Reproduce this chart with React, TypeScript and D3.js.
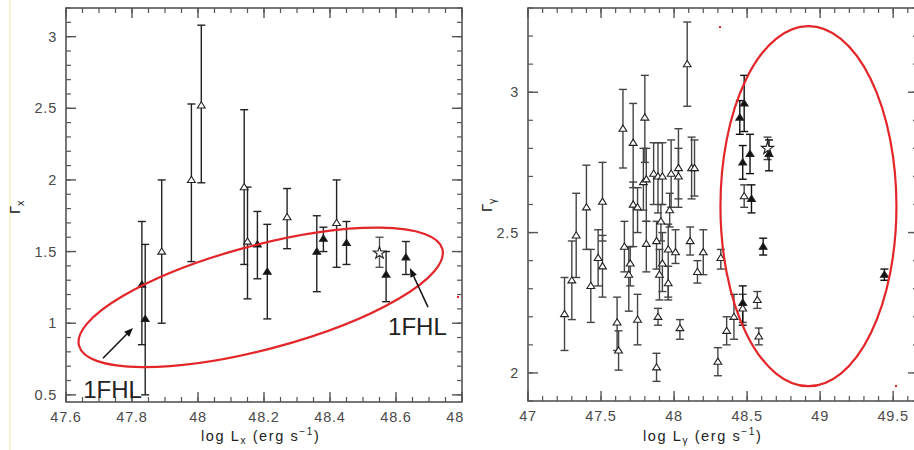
import React from 'react';
import * as d3 from 'd3';

// ---- left panel: Gamma_x vs log L_x ----
const leftX = [47.83, 47.84, 47.89, 47.98, 48.01, 48.14, 48.15, 48.18, 48.21, 48.27, 48.36, 48.38, 48.42, 48.45, 48.55, 48.57, 48.63];
const leftY = [1.27, 1.03, 1.5, 2.0, 2.52, 1.95, 1.57, 1.55, 1.36, 1.74, 1.5, 1.59, 1.7, 1.56, 1.49, 1.34, 1.46];
const leftLo = [0.85, 0.5, 1.0, 1.43, 1.98, 1.41, 1.17, 1.31, 1.03, 1.52, 1.22, 1.5, 1.39, 1.41, 1.39, 1.15, 1.34];
const leftHi = [1.71, 1.55, 2.0, 2.53, 3.08, 2.49, 1.95, 1.78, 1.69, 1.94, 1.75, 1.67, 2.0, 1.71, 1.6, 1.5, 1.57];
const leftKind = ['f', 'f', 'o', 'o', 'o', 'o', 'o', 'f', 'f', 'o', 'f', 'f', 'o', 'f', 's', 'f', 'f'];

const leftXTicks = [47.6, 47.8, 48, 48.2, 48.4, 48.6, 48.8];
const leftYTicks = [0.5, 1, 1.5, 2, 2.5, 3];

// ---- right panel: Gamma_gamma vs log L_gamma ----
const rightX = [47.25, 47.3, 47.33, 47.4, 47.43, 47.48, 47.51, 47.51, 47.61, 47.62, 47.66, 47.65, 47.69, 47.7, 47.72, 47.72, 47.75, 47.75, 47.79, 47.8, 47.81, 47.81, 47.86, 47.88, 47.89, 47.88, 47.89, 47.9, 47.91, 47.92, 47.92, 47.96, 47.96, 47.97, 47.98, 48.01, 48.03, 48.03, 48.04, 48.09, 48.11, 48.12, 48.14, 48.16, 48.2, 48.3, 48.32, 48.36, 48.41, 48.47, 48.48, 48.57, 48.58, 48.64, 48.45, 48.48, 48.47, 48.52, 48.53, 48.47, 48.61, 48.65, 49.44];
const rightY = [2.21, 2.33, 2.49, 2.59, 2.31, 2.41, 2.38, 2.61, 2.18, 2.08, 2.45, 2.87, 2.35, 2.39, 2.82, 2.6, 2.19, 2.59, 2.68, 2.91, 2.69, 2.46, 2.71, 2.02, 2.2, 2.47, 2.7, 2.35, 2.54, 2.7, 2.39, 2.44, 2.32, 2.58, 2.71, 2.43, 2.73, 2.7, 2.16, 3.1, 2.47, 2.73, 2.73, 2.36, 2.43, 2.04, 2.41, 2.15, 2.2, 2.23, 2.63, 2.26, 2.13, 2.8, 2.91, 2.96, 2.75, 2.78, 2.62, 2.25, 2.45, 2.78, 2.35];
const rightLo = [2.08, 2.19, 2.34, 2.44, 2.18, 2.31, 2.27, 2.47, 2.08, 2.01, 2.36, 2.73, 2.22, 2.31, 2.66, 2.45, 2.1, 2.5, 2.58, 2.75, 2.54, 2.36, 2.6, 1.97, 2.17, 2.37, 2.57, 2.26, 2.47, 2.6, 2.29, 2.27, 2.26, 2.52, 2.59, 2.39, 2.62, 2.59, 2.12, 2.95, 2.42, 2.62, 2.63, 2.32, 2.35, 1.99, 2.37, 2.1, 2.12, 2.18, 2.59, 2.23, 2.1, 2.76, 2.85, 2.86, 2.69, 2.71, 2.57, 2.17, 2.42, 2.72, 2.33];
const rightHi = [2.34, 2.47, 2.64, 2.74, 2.44, 2.51, 2.49, 2.75, 2.27, 2.15, 2.54, 3.01, 2.45, 2.45, 2.96, 2.68, 2.28, 2.66, 2.8, 3.06, 2.8, 2.54, 2.82, 2.07, 2.23, 2.54, 2.82, 2.44, 2.6, 2.82, 2.5, 2.53, 2.38, 2.64, 2.83, 2.51, 2.87, 2.8, 2.19, 3.25, 2.52, 2.84, 2.83, 2.4, 2.51, 2.09, 2.44, 2.2, 2.28, 2.28, 2.67, 2.29, 2.16, 2.84, 2.97, 3.06, 2.81, 2.85, 2.67, 2.31, 2.48, 2.83, 2.37];
const rightKind = [
  'o', 'o', 'o', 'o', 'o', 'o', 'o', 'o', 'o', 'o', 'o', 'o', 'o', 'o', 'o', 'o', 'o', 'o', 'o', 'o',
  'o', 'o', 'o', 'o', 'o', 'o', 'o', 'o', 'o', 'o', 'o', 'o', 'o', 'o', 'o', 'o', 'o', 'o', 'o', 'o',
  'o', 'o', 'o', 'o', 'o', 'o', 'o', 'o', 'o', 'o', 'o', 'o', 'o', 's', 'f', 'f', 'f', 'f', 'f', 'f',
  'f', 'f', 'f',
];

const rightXTicks = [47, 47.5, 48, 48.5, 49, 49.5];
const rightYTicks = [2, 2.5, 3];

const W = 914;
const H = 450;
const tickFont = "'Liberation Sans', Arial, sans-serif";
const axisColor = '#555';
const red = '#e3262a';

const fmt = (d: number) => String(+d.toFixed(2));

const tri = 'M0,-3.6 L3.9,2.6 L-3.9,2.6 Z';
const star = d3.symbol(d3.symbolStar, 46)()!;

type PanelProps = {
  x: d3.ScaleLinear<number, number>;
  y: d3.ScaleLinear<number, number>;
  xTicks: number[];
  yTicks: number[];
  xMinor: number[];
  yMinor: number[];
  px: number[];
  py: number[];
  lo: number[];
  hi: number[];
  kind: string[];
  barColor: (k: string) => string;
};

function Panel({ x, y, xTicks, yTicks, xMinor, yMinor, px, py, lo, hi, kind, barColor }: PanelProps) {
  const [x0, x1] = x.range();
  const [y0, y1] = y.range(); // y0 bottom, y1 top
  return (
    <g>
      {/* frame */}
      <rect x={x0} y={y1} width={x1 - x0} height={y0 - y1} fill="none" stroke={axisColor} strokeWidth={1.6} />
      {/* minor ticks */}
      {xMinor.map((t, i) => (
        <g key={'xm' + i} stroke={axisColor} strokeWidth={1.2}>
          <line x1={x(t)} x2={x(t)} y1={y0} y2={y0 - 5} />
          <line x1={x(t)} x2={x(t)} y1={y1} y2={y1 + 5} />
        </g>
      ))}
      {yMinor.map((t, i) => (
        <g key={'ym' + i} stroke={axisColor} strokeWidth={1.2}>
          <line x1={x0} x2={x0 + 5} y1={y(t)} y2={y(t)} />
          <line x1={x1} x2={x1 - 5} y1={y(t)} y2={y(t)} />
        </g>
      ))}
      {/* major ticks + labels */}
      {xTicks.map((t, i) => (
        <g key={'xt' + i}>
          <line x1={x(t)} x2={x(t)} y1={y0} y2={y0 - 10} stroke={axisColor} strokeWidth={1.4} />
          <line x1={x(t)} x2={x(t)} y1={y1} y2={y1 + 10} stroke={axisColor} strokeWidth={1.4} />
          <text x={x(t)} y={y0 + 20} textAnchor="middle" fontFamily={tickFont} fontSize={14.5}
            letterSpacing={0.8} fill="#4a4a4a">{fmt(t)}</text>
        </g>
      ))}
      {yTicks.map((t, i) => (
        <g key={'yt' + i}>
          <line x1={x0} x2={x0 + 10} y1={y(t)} y2={y(t)} stroke={axisColor} strokeWidth={1.4} />
          <line x1={x1} x2={x1 - 10} y1={y(t)} y2={y(t)} stroke={axisColor} strokeWidth={1.4} />
          <text x={x0 - 9} y={y(t) + 5} textAnchor="end" fontFamily={tickFont} fontSize={14.5}
            letterSpacing={0.8} fill="#4a4a4a">{fmt(t)}</text>
        </g>
      ))}
      {/* error bars */}
      {px.map((v, i) => {
        const cx = x(v);
        const c = barColor(kind[i]);
        return (
          <g key={'e' + i} stroke={c} strokeWidth={1.4}>
            <line x1={cx} x2={cx} y1={y(lo[i])} y2={y(hi[i])} />
            <line x1={cx - 4} x2={cx + 4} y1={y(lo[i])} y2={y(lo[i])} />
            <line x1={cx - 4} x2={cx + 4} y1={y(hi[i])} y2={y(hi[i])} />
          </g>
        );
      })}
      {/* markers */}
      {px.map((v, i) => (
        <path key={'m' + i} d={kind[i] === 's' ? star : tri}
          transform={`translate(${x(v)},${y(py[i])})`}
          fill={kind[i] === 'f' ? '#111' : '#fff'} stroke="#222" strokeWidth={1.1} />
      ))}
    </g>
  );
}

function Arrow({ x1, y1, x2, y2 }: { x1: number; y1: number; x2: number; y2: number }) {
  const a = Math.atan2(y2 - y1, x2 - x1);
  const L = 9, w = 3.5;
  const bx = x2 - L * Math.cos(a), by = y2 - L * Math.sin(a);
  const p = `M${x2},${y2} L${bx - w * Math.sin(a)},${by + w * Math.cos(a)} L${bx + w * Math.sin(a)},${by - w * Math.cos(a)} Z`;
  return (
    <g>
      <line x1={x1} y1={y1} x2={bx} y2={by} stroke="#111" strokeWidth={1.5} />
      <path d={p} fill="#111" />
    </g>
  );
}

export default function App() {
  const lx = d3.scaleLinear().domain([47.6, 48.8]).range([66, 462]);
  const ly = d3.scaleLinear().domain([0.45, 3.2]).range([402, 8]);
  const rx = d3.scaleLinear().domain([47, 49.67]).range([528, 918]);
  const ry = d3.scaleLinear().domain([1.9, 3.3]).range([401, 8]);

  const lxMinor = lx.ticks(24);
  const lyMinor = ly.ticks(27);
  const rxMinor = rx.ticks(26);
  const ryMinor = ry.ticks(14);

  const labelFont = "'Liberation Sans', Arial, sans-serif";

  return (
    <div style={{ position: 'absolute', left: 0, top: 0, width: W, height: H, background: '#fff' }}>
      <svg width={W} height={H} viewBox={`0 0 ${W} ${H}`}>
        <defs>
          <clipPath id="leftClip"><rect x={0} y={0} width={464} height={H} /></clipPath>
          <clipPath id="rightClip"><rect x={466} y={0} width={W - 466} height={H} /></clipPath>
        </defs>
        <rect x={0} y={0} width={W} height={H} fill="#fff" />
        <line x1={10} x2={10} y1={0} y2={H} stroke="#f6f1c8" strokeWidth={1.5} />

        <g clipPath="url(#leftClip)">
          <Panel x={lx} y={ly} xTicks={leftXTicks} yTicks={leftYTicks} xMinor={lxMinor} yMinor={lyMinor}
            px={leftX} py={leftY} lo={leftLo} hi={leftHi} kind={leftKind}
            barColor={(k) => (k === 's' ? '#555' : '#222')} />
          <ellipse cx={0} cy={0} rx={188} ry={52} fill="none" stroke={red} strokeWidth={2.2}
            transform={`translate(${lx(48.19)},${ly(1.18)}) rotate(-14.9)`} />
          <Arrow x1={lx(47.712)} y1={ly(0.755)} x2={lx(47.803)} y2={ly(0.967)} />
          <Arrow x1={lx(48.697)} y1={ly(1.112)} x2={lx(48.642)} y2={ly(1.385)} />
          <text x={lx(47.652)} y={ly(0.48)} fontFamily={labelFont} fontSize={24} fill="#222">1FHL</text>
          <text x={lx(48.576)} y={ly(0.916)} fontFamily={labelFont} fontSize={24} fill="#222">1FHL</text>
          <rect x={457} y={296} width={2} height={2} fill={red} />
          <text x={201} y={441} fontFamily={labelFont} fontSize={14.5} letterSpacing={1.6} fill="#222">
            log L<tspan fontSize={10} dy={3}>x</tspan><tspan dy={-3}> (erg s</tspan>
            <tspan fontSize={10} dy={-6}>−1</tspan><tspan dy={6}>)</tspan>
          </text>
          <text transform="translate(20,214) rotate(-90)" fontFamily="'DejaVu Sans', sans-serif" fontSize={14} fill="#222">
            Γ<tspan fontSize={10} dy={4}>x</tspan>
          </text>
        </g>

        <g clipPath="url(#rightClip)">
          <Panel x={rx} y={ry} xTicks={rightXTicks} yTicks={rightYTicks} xMinor={rxMinor} yMinor={ryMinor}
            px={rightX} py={rightY} lo={rightLo} hi={rightHi} kind={rightKind}
            barColor={(k) => (k === 'f' ? '#111' : '#444')} />
          <ellipse cx={rx(48.92)} cy={ry(2.594)} rx={88} ry={180} fill="none" stroke={red} strokeWidth={2.2} />
          <rect x={719} y={26} width={2} height={2} fill={red} />
          <rect x={895} y={385} width={2} height={2} fill={red} />
          <text x={643} y={441} fontFamily={labelFont} fontSize={14.5} letterSpacing={1.6} fill="#222">
            log L<tspan fontSize={10} dy={3}>γ</tspan><tspan dy={-3}> (erg s</tspan>
            <tspan fontSize={10} dy={-6}>−1</tspan><tspan dy={6}>)</tspan>
          </text>
          <text transform="translate(492,212) rotate(-90)" fontFamily="'DejaVu Sans', sans-serif" fontSize={14} fill="#222">
            Γ<tspan fontSize={10} dy={4}>γ</tspan>
          </text>
        </g>
      </svg>
    </div>
  );
}
